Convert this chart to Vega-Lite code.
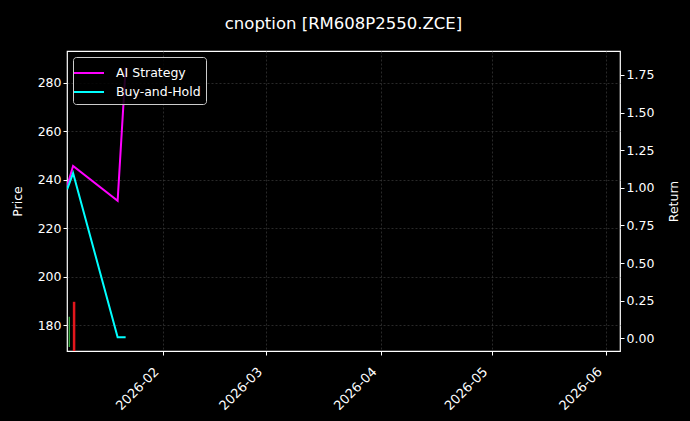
{
  "$schema": "https://vega.github.io/schema/vega-lite/v6.json",
  "width": 553,
  "height": 300,
  "autosize": {"type": "none"},
  "padding": {"left": 67, "top": 51, "right": 70, "bottom": 70},
  "background": "#000000",
  "title": {
    "text": "cnoption [RM608P2550.ZCE]",
    "anchor": "middle",
    "frame": "group",
    "offset": 19,
    "fontSize": 16.5,
    "fontWeight": "normal",
    "font": "DejaVu Sans",
    "color": "#ffffff"
  },
  "datasets": {
    "candles": [
      {"date": "2026-01-06T15:00:00", "open": 171.0, "close": 183.4, "dir": "up"},
      {"date": "2026-01-07T22:00:00", "open": 189.6, "close": 160.0, "dir": "down"}
    ],
    "returns": [
      {"date": "2026-01-06T01:00:00", "series": "AI Strategy", "ret": 1.01},
      {"date": "2026-01-07T15:30:00", "series": "AI Strategy", "ret": 1.145},
      {"date": "2026-01-19T17:00:00", "series": "AI Strategy", "ret": 0.914},
      {"date": "2026-01-21T21:00:00", "series": "AI Strategy", "ret": 1.8},
      {"date": "2026-01-06T01:00:00", "series": "Buy-and-Hold", "ret": 0.99},
      {"date": "2026-01-07T15:30:00", "series": "Buy-and-Hold", "ret": 1.098},
      {"date": "2026-01-19T17:00:00", "series": "Buy-and-Hold", "ret": 0.008},
      {"date": "2026-01-21T21:00:00", "series": "Buy-and-Hold", "ret": 0.008}
    ]
  },
  "layer": [
    {
      "data": {"name": "candles"},
      "mark": {"type": "rule", "clip": true},
      "encoding": {
        "x": {
          "field": "date",
          "type": "temporal",
          "scale": {"domain": ["2026-01-06T00:00:00", "2026-06-04T17:00:00"]},
          "axis": {
            "title": null,
            "format": "%Y-%m",
            "values": [
              {"year": 2026, "month": 2, "date": 1},
              {"year": 2026, "month": 3, "date": 1},
              {"year": 2026, "month": 4, "date": 1},
              {"year": 2026, "month": 5, "date": 1},
              {"year": 2026, "month": 6, "date": 1}
            ],
            "labelAngle": -45,
            "labelAlign": "right",
            "labelBaseline": "top",
            "labelFontSize": 13,
            "labelPadding": 10,
            "labelOffset": -11
          }
        },
        "y": {
          "field": "open",
          "type": "quantitative",
          "scale": {"domain": [169.3, 293.1], "nice": false, "zero": false},
          "axis": {"title": "Price", "values": [180, 200, 220, 240, 260, 280], "titlePadding": 13}
        },
        "y2": {"field": "close"},
        "color": {
          "field": "dir",
          "type": "nominal",
          "scale": {"domain": ["up", "down"], "range": ["#3cb043", "#e3161c"]},
          "legend": null
        },
        "strokeWidth": {
          "field": "dir",
          "type": "nominal",
          "scale": {"domain": ["up", "down"], "range": [1.3, 2.5]},
          "legend": null
        }
      }
    },
    {
      "data": {"name": "returns"},
      "mark": {"type": "line", "strokeWidth": 2, "clip": true},
      "encoding": {
        "x": {"field": "date", "type": "temporal"},
        "y": {
          "field": "ret",
          "type": "quantitative",
          "scale": {"domain": [-0.084, 1.909], "nice": false, "zero": false},
          "axis": {
            "orient": "right",
            "title": "Return",
            "titleAngle": 270,
            "format": ".2f",
            "values": [0, 0.25, 0.5, 0.75, 1, 1.25, 1.5, 1.75],
            "titlePadding": 27
          }
        },
        "color": {
          "field": "series",
          "type": "nominal",
          "scale": {"domain": ["AI Strategy", "Buy-and-Hold"], "range": ["#ff00ff", "#00ffff"]},
          "legend": {
            "title": null,
            "orient": "top-left",
            "offset": 6,
            "padding": 5,
            "fillColor": "rgba(0,0,0,0.85)",
            "strokeColor": "#cccccc",
            "cornerRadius": 3,
            "symbolType": "M-1.5,0L1.5,0",
            "symbolSize": 400,
            "symbolStrokeWidth": 2,
            "labelOffset": 16,
            "rowPadding": 1,
            "labelColor": "#ffffff",
            "labelFontSize": 12.5,
            "labelFont": "DejaVu Sans"
          }
        }
      }
    }
  ],
  "resolve": {"scale": {"y": "independent", "color": "independent", "strokeWidth": "independent"}},
  "config": {
    "view": {"stroke": "#ffffff", "strokeWidth": 1.2, "fill": "#000000"},
    "axis": {
      "domain": false,
      "tickColor": "#ffffff",
      "tickSize": 4,
      "labelColor": "#ffffff",
      "labelFont": "DejaVu Sans",
      "labelFontSize": 12.5,
      "titleColor": "#ffffff",
      "titleFont": "DejaVu Sans",
      "titleFontSize": 12.5,
      "titleFontWeight": "normal",
      "grid": true,
      "gridColor": "#454545",
      "gridDash": [2, 2],
      "gridWidth": 0.6
    }
  }
}
